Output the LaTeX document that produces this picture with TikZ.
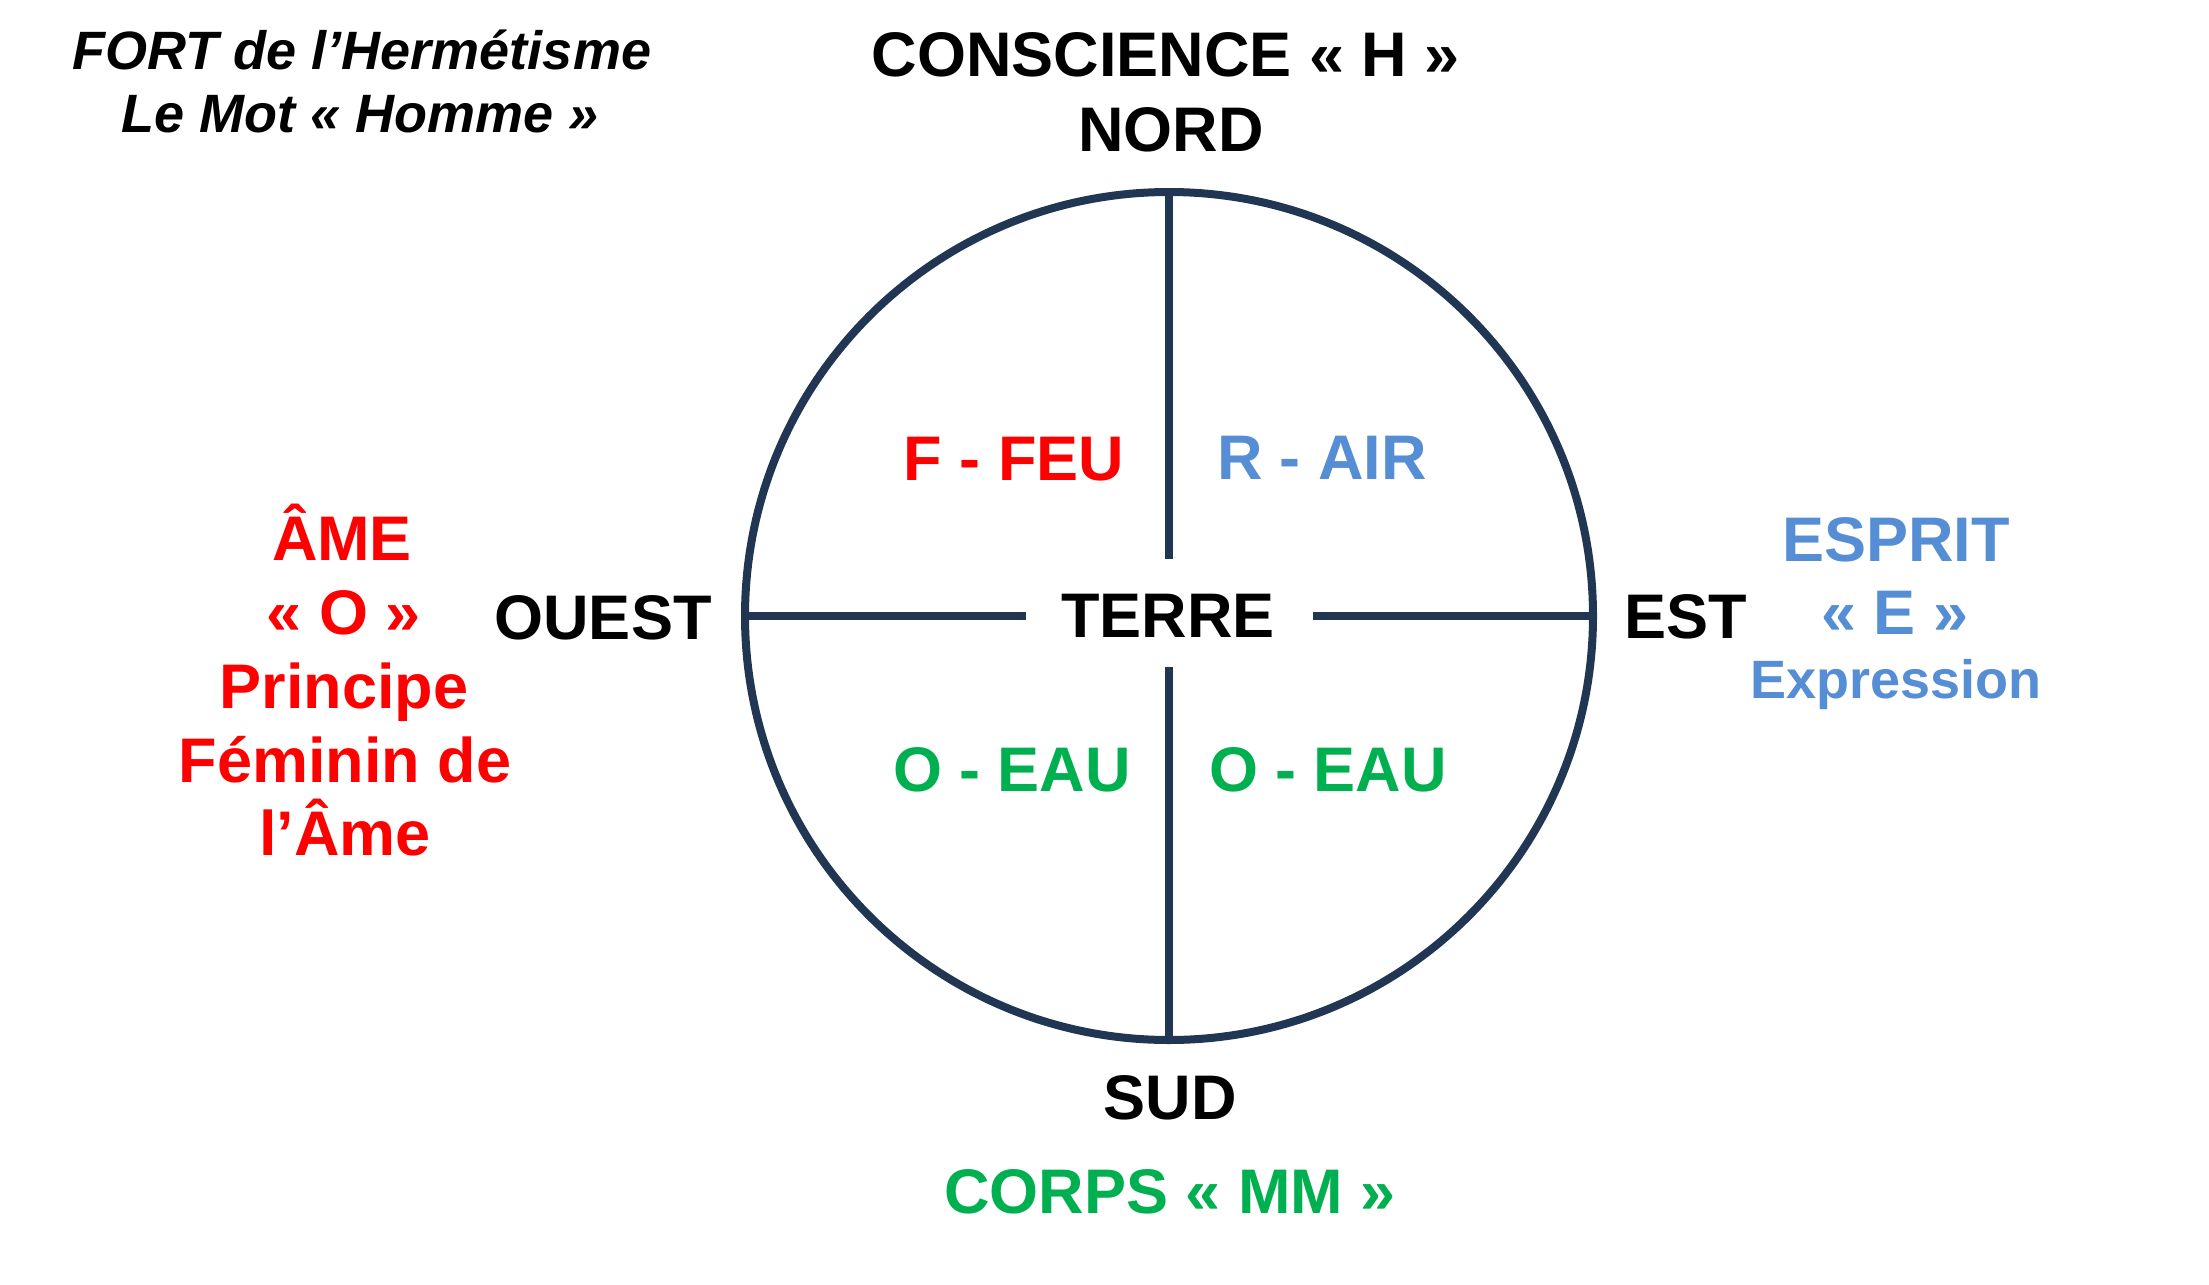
\documentclass[tikz,border=0pt]{standalone}
\usepackage{fontspec}
\setmainfont{Liberation Sans}
\definecolor{navy}{RGB}{32,54,82}
\definecolor{fred}{RGB}{255,0,0}
\definecolor{fblue}{RGB}{85,142,213}
\definecolor{fgreen}{RGB}{0,176,80}
\begin{document}
\begin{tikzpicture}[x=0.5pt,y=-0.5pt,
  big/.style={font=\bfseries\fontsize{31.5}{37}\selectfont, anchor=base, inner sep=0pt},
  ital/.style={font=\bfseries\itshape\fontsize{27}{32}\selectfont, anchor=base, inner sep=0pt},
  small/.style={font=\bfseries\fontsize{27}{32}\selectfont, anchor=base, inner sep=0pt},
  ring/.style={circle, draw=navy, line width=4pt, minimum size=424pt, inner sep=0pt, outer sep=0pt},
  spoke/.style={draw=navy, line width=4pt}]
\useasboundingbox[fill=white] (0,0) rectangle (2209,1284);

% circle and spokes
\node[ring] (c) at (1169,616) {};
\coordinate (nend) at (1169,559);
\coordinate (send) at (1169,667);
\coordinate (wend) at (1026,616);
\coordinate (eend) at (1313,616);
\draw[spoke] (c.north) -- (nend);
\draw[spoke] (send) -- (c.south);
\draw[spoke] (c.west) -- (wend);
\draw[spoke] (eend) -- (c.east);

% title
\node[ital] (t1) at (362,69) {FORT de l’Hermétisme};
\node[ital] (t2) at (360,133) {Le Mot « Homme »};

% north
\node[big] (cons) at (1166,77) {CONSCIENCE « H »};
\node[big] (nord) at (1171,151) {NORD};

% quadrants
\node[big, text=fred] (feu) at (1014,480) {F - FEU};
\node[big, text=fblue] (air) at (1322,479) {R - AIR};
\node[big] (terre) at (1168,637) {TERRE};
\node[big, text=fgreen] (eau1) at (1012,791) {O - EAU};
\node[big, text=fgreen] (eau2) at (1328,791) {O - EAU};

% directions
\node[big] (ouest) at (603,639) {OUEST};
\node[big] (est) at (1686,638) {EST};
\node[big] (sud) at (1170,1119) {SUD};
\node[big, text=fgreen] (corps) at (1170,1213) {CORPS « MM »};

% left column
\node[big, text=fred] (l1) at (342,560) {ÂME};
\node[big, text=fred] (l2) at (344,634) {« O »};
\node[big, text=fred] (l3) at (344,708) {Principe};
\node[big, text=fred] (l4) at (345,782) {Féminin de};
\node[big, text=fred] (l5) at (345,855) {l’Âme};

% right column
\node[big, text=fblue] (r1) at (1896,561) {ESPRIT};
\node[big, text=fblue] (r2) at (1895,634) {« E »};
\node[small, text=fblue] (r3) at (1896,698) {Expression};
\end{tikzpicture}
\end{document}
